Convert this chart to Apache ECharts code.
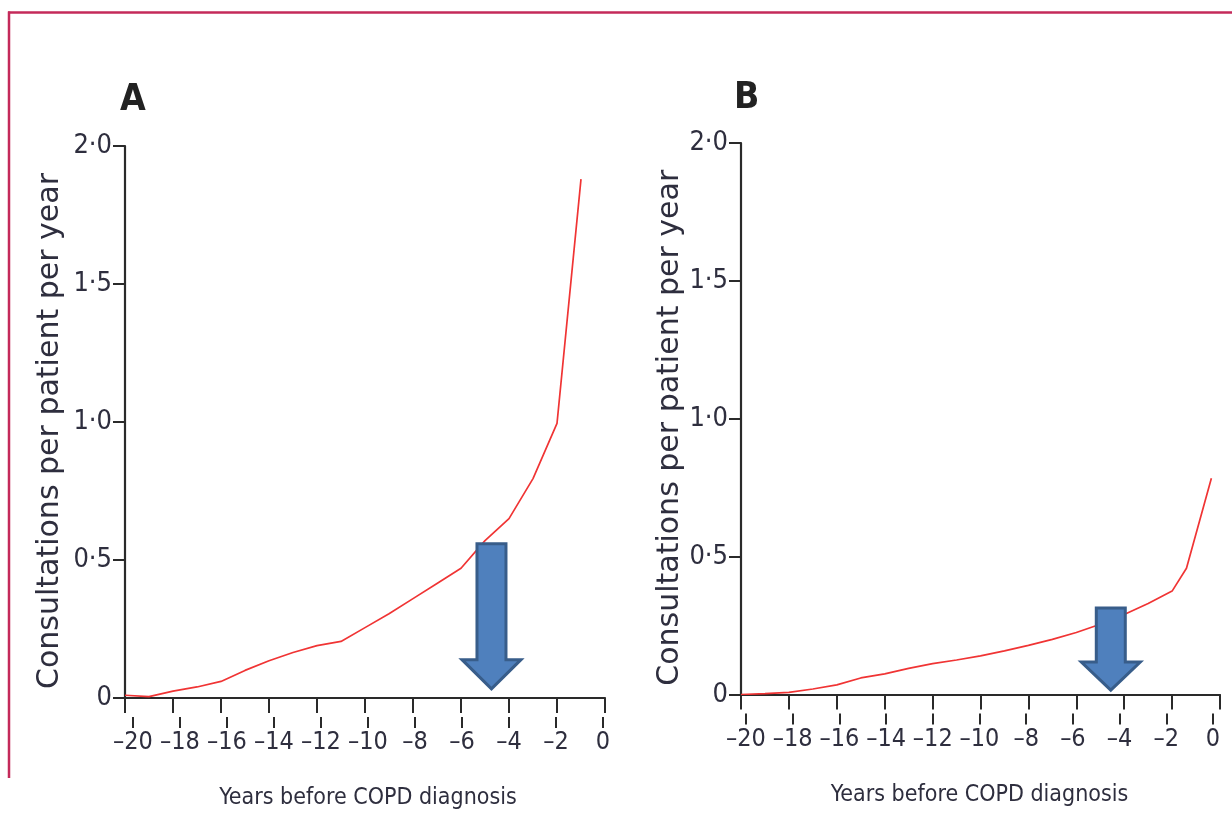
<!DOCTYPE html>
<html>
<head>
<meta charset="utf-8">
<style>
  html, body { margin: 0; padding: 0; background: #ffffff; }
  #chart { width: 1232px; height: 835px; }
</style>
<script src="https://cdn.jsdelivr.net/npm/echarts@6/dist/echarts.min.js"></script>
</head>
<body>
<div id="chart"></div>
<script>
// ---- data ----
const panelTitles = ['A', 'B'];
const xTicks = [-20, -18, -16, -14, -12, -10, -8, -6, -4, -2, 0];
const yTicks = [0, 0.5, 1.0, 1.5, 2.0];
const xAxisTitle = 'Years before COPD diagnosis';
const yAxisTitle = 'Consultations per patient per year';

const yearsA = [-20, -19, -18, -17, -16, -15, -14, -13, -12, -11, -10, -9, -8, -7, -6, -5, -4, -3, -2, -1];
const consultA = [0.01, 0.005, 0.025, 0.04, 0.06, 0.1, 0.135, 0.165, 0.19, 0.205, 0.255, 0.305, 0.36, 0.415, 0.47, 0.57, 0.65, 0.795, 0.995, 1.88];

const yearsB = [-20, -19, -18, -17, -16, -15, -14, -13, -12, -11, -10, -9, -8, -7, -6, -5, -4, -3, -2, -1.4, -0.36];
const consultB = [0, 0.003, 0.008, 0.02, 0.035, 0.06, 0.075, 0.095, 0.112, 0.125, 0.14, 0.158, 0.178, 0.2, 0.225, 0.255, 0.29, 0.33, 0.375, 0.458, 0.784];

// arrow annotations (data coordinates: year, top value, head-base value, tip value)
const arrowA = { x: -4.73, top: 0.559, base: 0.139, tip: 0.033 };
const arrowB = { x: -4.56, top: 0.314, base: 0.118, tip: 0.016 };

// ---- styling ----
const narrow = '"Liberation Sans Narrow", "DejaVu Sans Condensed", "Arial Narrow", sans-serif';
const textColor = '#2e2e3e';
const axisColor = '#2a2a2a';

function fmtX(v) { return v < 0 ? '\u2013' + (-v) : String(v); }
function fmtY(v) { return v === 0 ? '0' : v.toFixed(1).replace('.', '\u00b7'); }
function pairs(xs, ys) { return xs.map((x, i) => [x, ys[i]]); }

const grids = [
  { left: 125, top: 146, width: 480, height: 552 },   // A main
  { left: 133, top: 146, width: 470, height: 552 },   // A label row
  { left: 741, top: 143, width: 479, height: 551.5 }, // B main
  { left: 746, top: 143, width: 467, height: 551.5 }  // B label row
];

function mainX(gi) {
  return {
    type: 'value', gridIndex: gi, min: xTicks[0], max: xTicks[xTicks.length - 1], interval: 2,
    axisLine: { show: true, onZero: false, lineStyle: { color: axisColor, width: 2.2 } },
    axisTick: { show: true, length: 15, lineStyle: { color: axisColor, width: 2 } },
    axisLabel: { show: false },
    splitLine: { show: false }
  };
}
function labelX(gi) {
  return {
    type: 'value', gridIndex: gi, min: xTicks[0], max: xTicks[xTicks.length - 1], interval: 2, offset: 19,
    axisLine: { show: false, onZero: false },
    axisTick: { show: true, length: 11, lineStyle: { color: axisColor, width: 2 } },
    axisLabel: { show: true, margin: 13, formatter: fmtX, fontFamily: narrow, fontSize: 25, color: textColor },
    splitLine: { show: false },
    name: xAxisTitle, nameLocation: 'middle', nameGap: 70,
    nameTextStyle: { fontFamily: narrow, fontSize: 23, color: textColor }
  };
}
function mainY(gi, gap) {
  return {
    type: 'value', gridIndex: gi, min: yTicks[0], max: yTicks[yTicks.length - 1], interval: 0.5,
    axisLine: { show: true, onZero: false, lineStyle: { color: axisColor, width: 2.2 } },
    axisTick: { show: true, length: 12, lineStyle: { color: axisColor, width: 2 } },
    axisLabel: { show: true, margin: 13, formatter: fmtY, fontFamily: narrow, fontSize: 27, color: textColor },
    splitLine: { show: false },
    name: yAxisTitle, nameLocation: 'middle', nameGap: gap,
    nameTextStyle: { fontFamily: '"DejaVu Sans", Verdana, sans-serif', fontSize: 30, color: textColor, padding: [0, 18, 0, 0] }
  };
}
function hiddenY(gi) {
  return { type: 'value', gridIndex: gi, min: 0, max: 2, show: false };
}

const lineStyle = { color: '#f03434', width: 1.7 };
const titleStyle = { fontFamily: narrow, fontSize: 37, fontWeight: 'bold', color: '#222' };

const option = {
  backgroundColor: '#ffffff',
  animation: false,
  title: [
    { text: panelTitles[0], left: 115, top: 77, textStyle: titleStyle },
    { text: panelTitles[1], left: 729, top: 75, textStyle: titleStyle }
  ],
  grid: grids,
  xAxis: [mainX(0), labelX(1), mainX(2), labelX(3)],
  yAxis: [mainY(0, 60), hiddenY(1), mainY(2, 55), hiddenY(3)],
  series: [
    { type: 'line', xAxisIndex: 0, yAxisIndex: 0, data: pairs(yearsA, consultA), symbol: 'none', lineStyle: lineStyle, itemStyle: { color: '#f03434' }, z: 3 },
    { type: 'line', xAxisIndex: 2, yAxisIndex: 2, data: pairs(yearsB, consultB), symbol: 'none', lineStyle: lineStyle, itemStyle: { color: '#f03434' }, z: 3 }
  ]
};

const chart = echarts.init(document.getElementById('chart'), null, { renderer: 'canvas' });
chart.setOption(option);

function arrowShape(gridIndex, a) {
  const top = chart.convertToPixel({ gridIndex: gridIndex }, [a.x, a.top]);
  const base = chart.convertToPixel({ gridIndex: gridIndex }, [a.x, a.base]);
  const tip = chart.convertToPixel({ gridIndex: gridIndex }, [a.x, a.tip]);
  const cx = top[0], sw = 14.5, hw = 29.5;
  return {
    type: 'polygon', z: 10,
    shape: { points: [
      [cx - sw, top[1]], [cx + sw, top[1]], [cx + sw, base[1]], [cx + hw, base[1]],
      [cx, tip[1]], [cx - hw, base[1]], [cx - sw, base[1]]
    ] },
    style: { fill: '#4f80bd', stroke: '#385d8a', lineWidth: 3, lineJoin: 'miter' }
  };
}

chart.setOption({
  graphic: [
    { type: 'line', shape: { x1: 8, y1: 12.5, x2: 1232, y2: 12.5 }, style: { stroke: '#c42a5a', lineWidth: 2.5 } },
    { type: 'line', shape: { x1: 9, y1: 11.5, x2: 9, y2: 778 }, style: { stroke: '#c42a5a', lineWidth: 2.5 } },
    arrowShape(0, arrowA),
    arrowShape(2, arrowB)
  ]
});
</script>
</body>
</html>
